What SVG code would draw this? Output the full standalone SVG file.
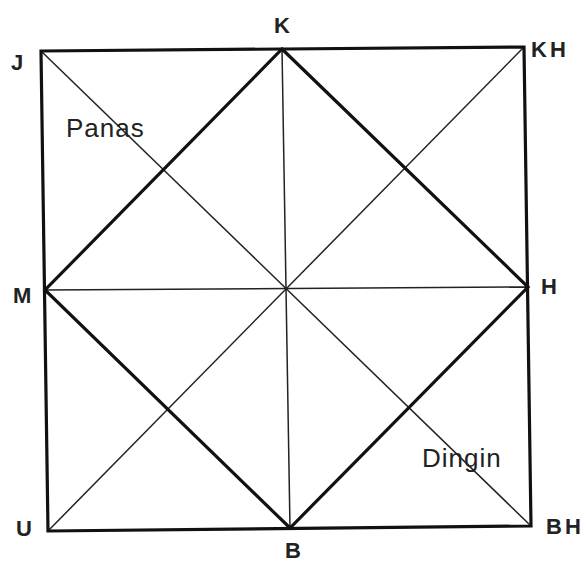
<svg xmlns="http://www.w3.org/2000/svg" width="585" height="565" viewBox="0 0 585 565">
<style>
.thick{stroke:#111;stroke-width:3.2;fill:none;stroke-linejoin:miter}
.thin{stroke:#222;stroke-width:1.5;fill:none}
.lbl{font-family:"Liberation Sans",Arial,sans-serif;font-size:22px;font-weight:bold;fill:#222}
.zone{font-family:"Liberation Sans",Arial,sans-serif;font-size:26px;letter-spacing:1px;fill:#222}
</style>
<rect width="585" height="565" fill="#fff"/>
<g id="connectors">
<line class="thin" x1="41" y1="51" x2="531" y2="526"/>
<line class="thin" x1="524" y1="47" x2="48" y2="531"/>
<line class="thin" x1="282" y1="49" x2="290" y2="528"/>
<line class="thin" x1="45" y1="290" x2="528" y2="287"/>
<polygon class="thick" points="282,49 528,287 290,528 45,290"/>
<polygon class="thick" points="41,51 524,47 531,526 48,531"/>
</g>
<g id="J"><text class="lbl" x="11" y="70">J</text></g>
<g id="K"><text class="lbl" x="282" y="33" text-anchor="middle">K</text></g>
<g id="KH"><text class="lbl" x="531" y="57" letter-spacing="3" font-weight="normal" font-size="23">KH</text></g>
<g id="M"><text class="lbl" x="13" y="303">M</text></g>
<g id="H"><text class="lbl" x="541" y="294">H</text></g>
<g id="U"><text class="lbl" x="16" y="536">U</text></g>
<g id="B"><text class="lbl" x="293" y="558" text-anchor="middle">B</text></g>
<g id="BH"><text class="lbl" x="546" y="534" letter-spacing="3" font-weight="normal" font-size="23">BH</text></g>
<g id="Panas"><text class="zone" x="66" y="137">Panas</text></g>
<g id="Dingin"><text class="zone" x="422" y="467">Dingin</text></g>
</svg>
